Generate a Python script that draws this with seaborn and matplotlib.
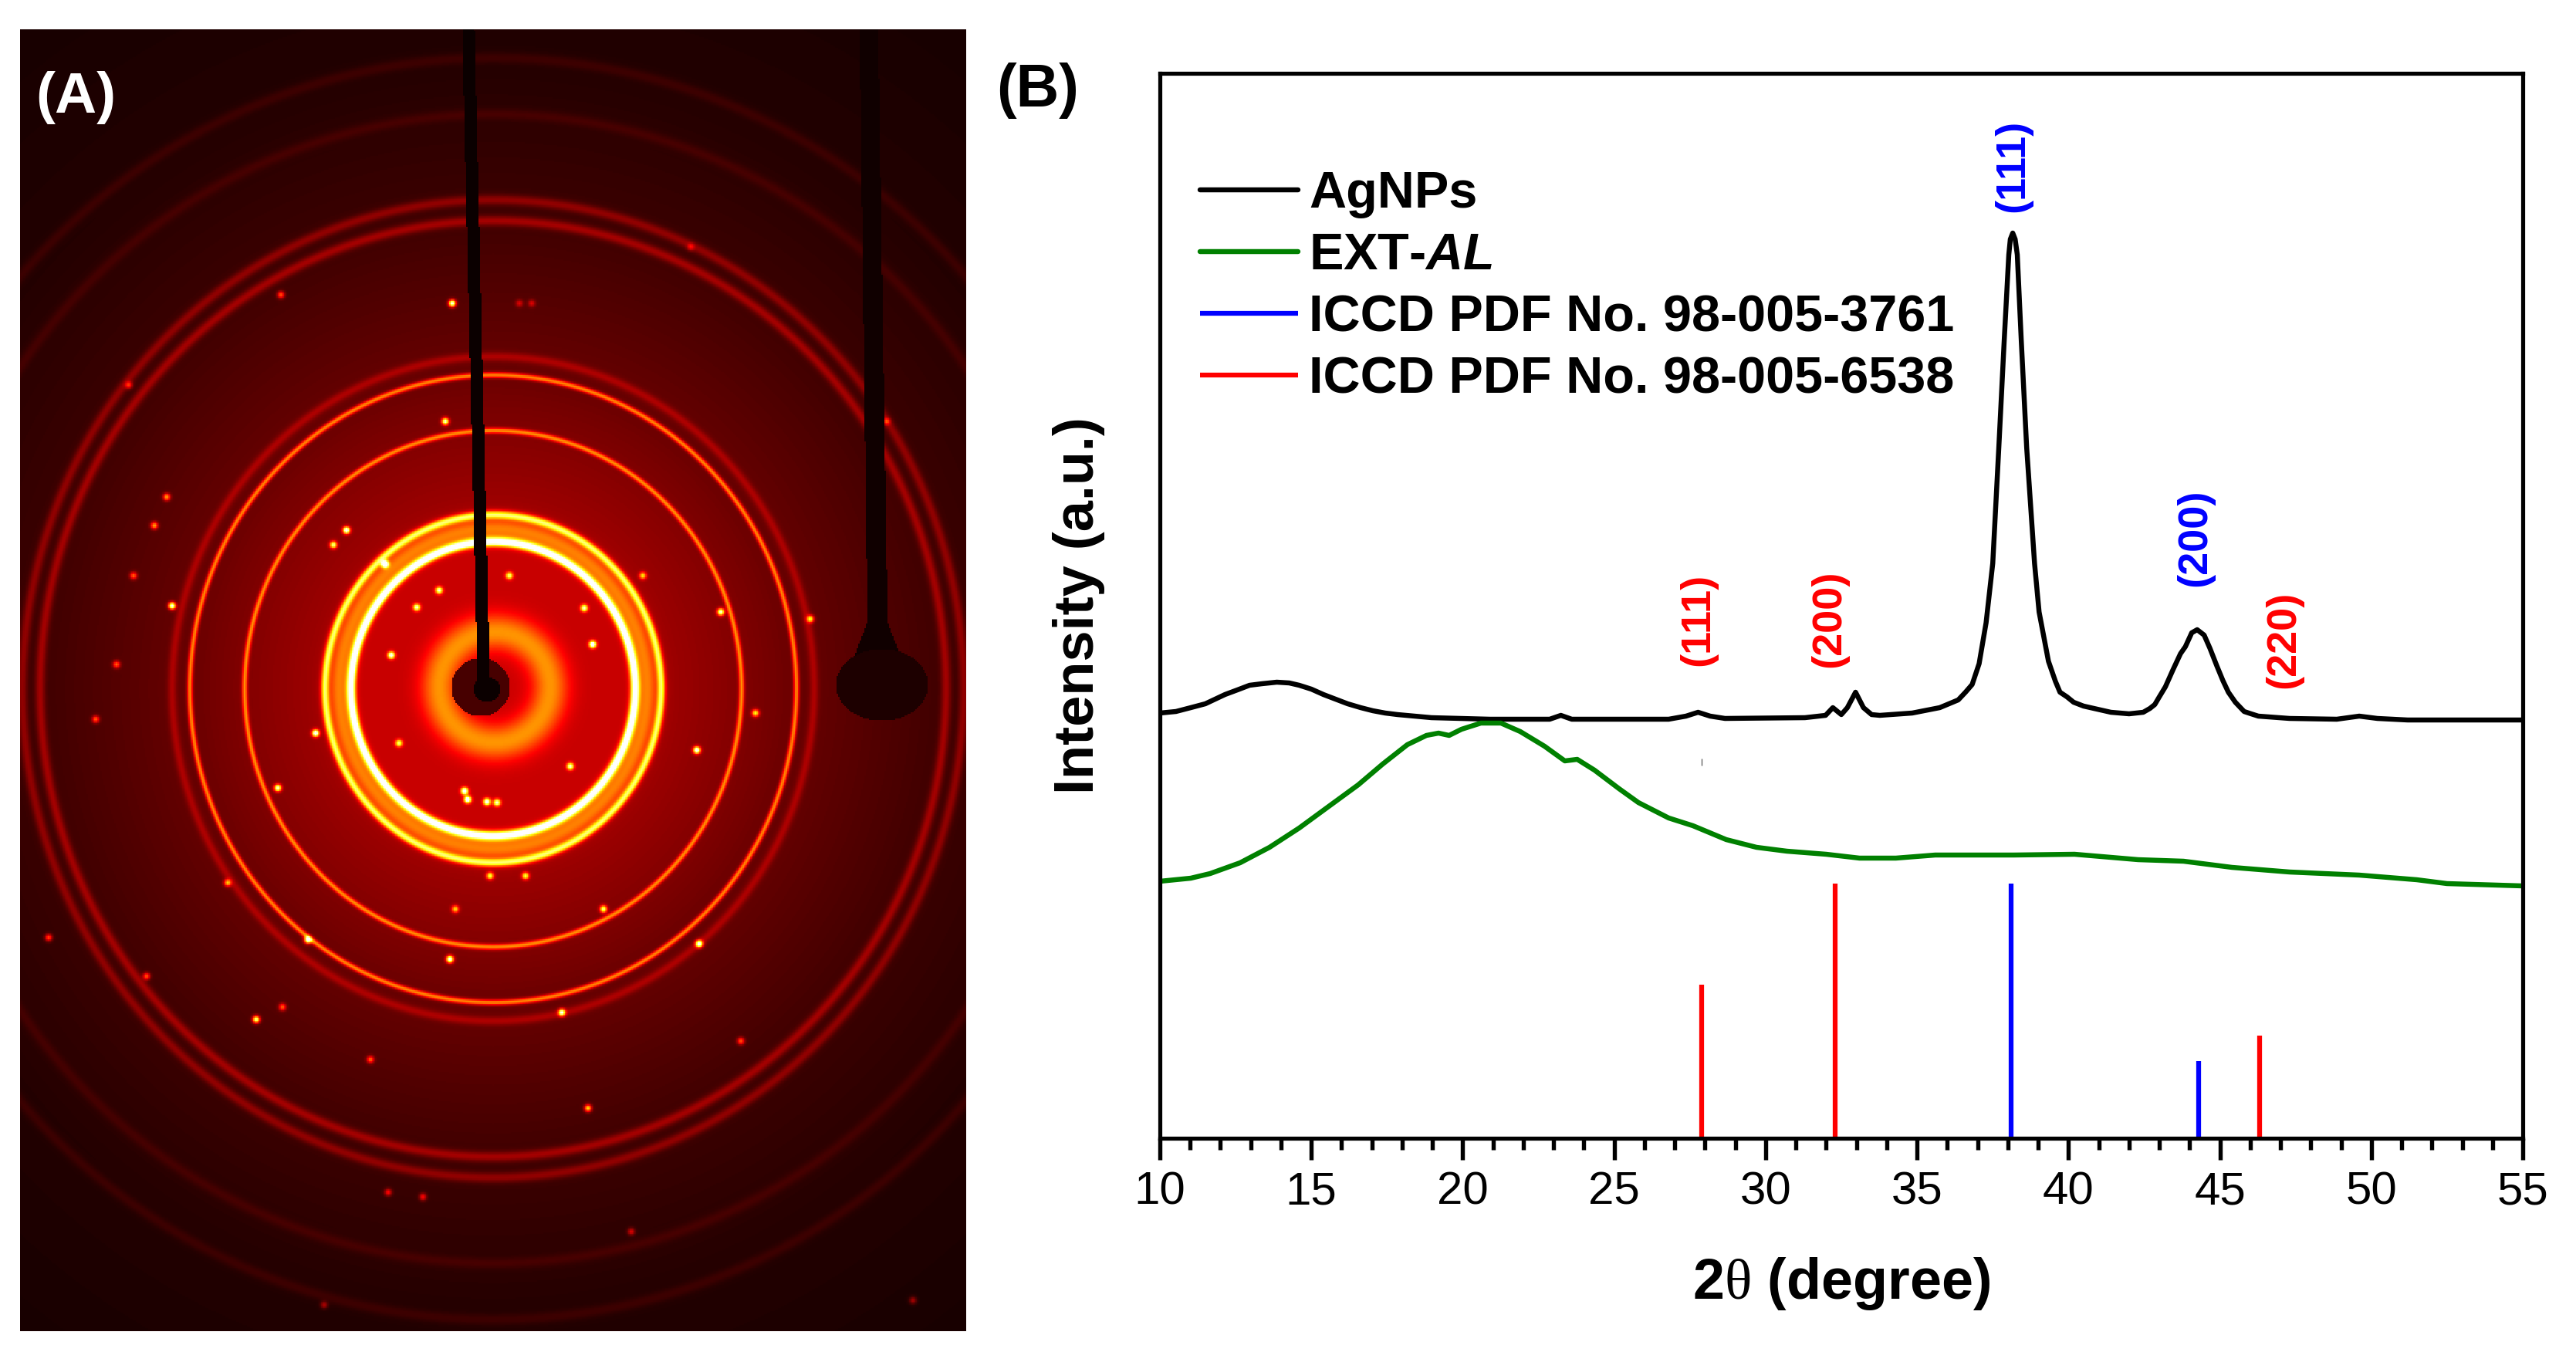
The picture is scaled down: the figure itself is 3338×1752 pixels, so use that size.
import numpy as np
import pandas as pd
import matplotlib.pyplot as plt
import seaborn as sns
from matplotlib.ticker import MultipleLocator

sns.set_style("ticks")
plt.rcParams['font.family'] = ['Liberation Sans', 'DejaVu Sans']
plt.rcParams['mathtext.fontset'] = 'custom'
plt.rcParams['mathtext.rm'] = 'Liberation Serif'
plt.rcParams['mathtext.bfit'] = 'Liberation Sans:italic:bold'
plt.rcParams['text.color'] = 'black'
plt.rcParams['axes.labelcolor'] = 'black'
plt.rcParams['xtick.color'] = 'black'
plt.rcParams['xtick.labelcolor'] = 'black'

W, H = 3338, 1752

# panel B, intensity is in arbitrary units
agnps_x = [10, 10.53, 11.02, 11.5, 12.15, 12.56, 12.96, 13.37, 13.86, 14.27, 14.6, 15.0, 15.4, 15.8,
           16.2, 16.63, 17.03, 17.44, 17.85, 18.97, 20.9, 22.87,
           23.24, 23.6, 26.8, 27.37, 27.77, 28.17, 28.66, 31.3, 31.98, 32.22, 32.5, 32.7, 32.97,
           33.23, 33.5, 33.77, 34.84, 35.75, 36.36, 36.6, 36.82, 37.05, 37.28, 37.5, 37.7, 37.88, 38.03,
           38.08, 38.16, 38.24, 38.31, 38.44, 38.62, 38.88, 39.03, 39.34, 39.57, 39.72, 39.95, 40.17,
           40.5, 41.4, 42.0, 42.47, 42.69, 42.85, 43.0, 43.2, 43.45, 43.7, 43.86, 44.07, 44.25, 44.48,
           44.67, 44.9, 45.1, 45.28, 45.51, 45.8, 46.03, 46.27, 47.3, 48.86, 49.6,
           50.2, 51.2, 55]
agnps_y = [551, 553, 558, 563, 575, 581, 587, 589, 591, 590, 587, 582, 575, 569,
           563, 558, 554, 551, 549, 545, 543, 543,
           548, 543, 543, 547, 552, 547, 544, 545, 548, 558, 549, 558, 578,
           558, 549, 548, 551, 558, 568, 578, 588, 615, 668, 745, 895, 1035, 1145,
           1165, 1173, 1165, 1145, 1035, 895, 745, 682, 618, 592, 578, 572, 565,
           560, 552, 550, 552, 557, 562, 572, 585, 607, 628, 637, 655, 659, 652,
           635, 612, 593, 578, 565, 553, 550, 547, 544, 543, 547,
           544, 542, 542]

ext_x = [10, 11.02, 11.66, 12.65, 13.62, 14.6, 15.4, 16.55, 17.36, 18.17, 18.8, 19.2, 19.55, 19.96,
         20.6, 21.26, 21.9, 22.7, 23.37, 23.78, 24.35, 25.16, 25.8, 26.8, 27.6, 28.7, 29.7, 30.7,
         32, 33.1, 34.3, 35.6, 38.2, 40.2, 42.3, 43.8, 45.4, 47.3, 49.6, 51.5, 52.5, 55]
ext_y = [333, 337, 343, 357, 377, 402, 425, 458, 485, 510, 522, 525, 522, 530,
         538, 538, 527, 508, 489, 491, 477, 453, 435, 415, 405, 387, 377, 372,
         368, 363, 363, 367, 367, 368, 361, 359, 351, 345, 341, 335, 330, 327]

blue_pos = [38.1, 44.3]
blue_height = [330, 100]
red_pos = [27.9, 32.3, 46.3]
red_height = [199, 330, 133]

hkl_text = ['(111)', '(200)', '(220)', '(111)', '(200)']
hkl_x = [27.76, 32.1, 47.1, 38.16, 44.17]
hkl_y = [612, 610, 583, 1200, 715]
hkl_color = ['#ff0000', '#ff0000', '#ff0000', '#0000ff', '#0000ff']

x_ticks = [10, 15, 20, 25, 30, 35, 40, 45, 50, 55]

# panel A, detector picture: rings, spots and background in picture pixels
ring_rx = [184, 200, 218, 322, 393, 416, 587, 610, 740, 810]
ring_ry = [191, 208, 226, 335, 407, 431, 607, 634, 745, 818]
ring_level = [0.80, 0.30, 0.55, 0.40, 0.42, 0.11, 0.15, 0.13, 0.04, 0.04]
ring_sigma = [4, 11, 3.5, 2.5, 2.5, 4, 4.5, 4.5, 5, 5]

spot_x = [585, 576, 363, 215, 199, 172, 222, 150, 123, 448, 431, 498, 539, 568, 506, 767, 756, 659,
          832, 933, 1049, 978, 902, 738, 601, 605, 630, 643, 408, 359, 516, 634, 680, 589, 781, 582,
          905, 398, 294, 62, 189, 331, 365, 727, 479, 959, 761, 502, 547, 817, 419, 1182, 894, 1148,
          672, 688, 166]
spot_y = [392, 545, 381, 643, 680, 745, 784, 860, 932, 686, 705, 730, 786, 764, 848, 834, 787, 745,
          745, 792, 801, 924, 972, 993, 1025, 1036, 1039, 1040, 950, 1021, 963, 1135, 1135, 1178, 1178, 1243,
          1223, 1218, 1144, 1215, 1265, 1321, 1305, 1312, 1373, 1349, 1436, 1545, 1551, 1596, 1691, 1685, 319, 545,
          392, 392, 498]
spot_level = [0.9, 0.8, 0.4, 0.5, 0.5, 0.4, 0.9, 0.4, 0.4, 0.9, 0.7, 0.9, 0.7, 0.7, 0.8, 0.9, 0.7, 0.6,
              0.5, 0.8, 0.6, 0.6, 0.9, 0.7, 0.9, 0.9, 0.8, 0.7, 0.9, 0.8, 0.6, 0.6, 0.6, 0.5, 0.7, 0.9,
              0.9, 0.8, 0.5, 0.4, 0.4, 0.8, 0.4, 0.8, 0.4, 0.4, 0.6, 0.3, 0.3, 0.25, 0.2, 0.2, 0.2, 0.3,
              0.2, 0.2, 0.3]

bg_radius = [0, 180, 230, 320, 400, 600, 800, 1100]
bg_level = [0.29, 0.28, 0.22, 0.18, 0.14, 0.075, 0.035, 0.015]


def detector_field():
    px, py = np.meshgrid(np.arange(26, 1252, 2), np.arange(38, 1725, 2))
    cx, cy = 638, 892
    r = np.hypot(px - cx, (py - cy) / 1.04)
    z = np.interp(r, bg_radius, bg_level)

    # the diffuse halo round the beam stop
    z += 0.30 * np.exp(-((np.hypot(px - 640, py - 890) - 72) / 17) ** 2 / 2)

    for rx, ry, level, sigma in zip(ring_rx, ring_ry, ring_level, ring_sigma):
        d = (np.sqrt(((px - cx) / rx) ** 2 + ((py - cy) / ry) ** 2) - 1) * (rx + ry) / 2
        z += level * np.exp(-(d / sigma) ** 2 / 2)

    for sx, sy, level in zip(spot_x, spot_y, spot_level):
        z += level * np.exp(-((px - sx) ** 2 + (py - sy) ** 2) / 2 / 3.2 ** 2)

    # beam stop and its arms
    z[np.hypot(px - 622, py - 890) < 38] = 0.09
    z[np.hypot(px - 630, py - 893) < 17] = 0
    arm1 = np.interp(py, [38, 890], [606, 626])
    z[(np.abs(px - arm1) < 8) & (py < 890)] = 0
    arm2 = np.interp(py, [38, 800], [1125, 1136])
    half = np.interp(py, [38, 805, 855], [12, 13, 32])
    z[(np.abs(px - arm2) < half) & (py < 860)] = 0.01
    z[((px - 1142) / 60) ** 2 + ((py - 887) / 47) ** 2 < 1] = 0.03
    return np.clip(z, 0, 1)


fig = plt.figure(figsize=(W / 300, H / 300), dpi=300)

ax_a = fig.add_axes([26 / W, 1 - 1725 / H, 1226 / W, 1687 / H])
sns.heatmap(detector_field(), cmap='hot', vmin=0, vmax=1, cbar=False,
            xticklabels=False, yticklabels=False, rasterized=True, ax=ax_a)
ax_a.set_xlabel('')
ax_a.set_ylabel('')

ax_b = fig.add_axes([1503 / W, 1 - 1475 / H, 1766 / W, 1380 / H])

agnps = pd.DataFrame({'x': agnps_x, 'y': agnps_y})
ext = pd.DataFrame({'x': ext_x, 'y': ext_y})
sns.lineplot(data=agnps, x='x', y='y', color='black', lw=1.55, sort=False, estimator=None,
             label='AgNPs', ax=ax_b, solid_joinstyle='round')
sns.lineplot(data=ext, x='x', y='y', color='#008000', lw=1.55, sort=False, estimator=None,
             label=r'EXT-$\mathbfit{AL}$', ax=ax_b, solid_joinstyle='round')

ax_b.vlines(blue_pos, 0, blue_height, color='#0000ff', lw=1.5, label='ICCD PDF No. 98-005-3761')
ax_b.vlines(red_pos, 0, red_height, color='#ff0000', lw=1.5, label='ICCD PDF No. 98-005-6538')
# small stray mark under the 27.9 peak
ax_b.vlines([27.9], 483, 492, color='#555555', lw=0.3)

for text, x, y, color in zip(hkl_text, hkl_x, hkl_y, hkl_color):
    ax_b.text(x, y, text, color=color, fontsize=13, fontweight='bold', rotation=90,
              ha='center', va='bottom')

ax_b.set_xlim(10, 55)
ax_b.set_ylim(0, 1380)
ax_b.set_xticks(x_ticks)
ax_b.xaxis.set_minor_locator(MultipleLocator(1))
ax_b.set_yticks([])
ax_b.tick_params(axis='x', which='major', length=6.8, width=1.3, labelsize=14.4, pad=3.5, color='black')
ax_b.tick_params(axis='x', which='minor', length=3.6, width=1.3, color='black')
for spine in ax_b.spines.values():
    spine.set_linewidth(1.25)
    spine.set_color('black')

ax_b.set_xlabel(r'2$\mathrm{\theta}$ (degree)', fontsize=17.7, fontweight='bold', labelpad=13)
ax_b.set_ylabel('Intensity (a.u.)', fontsize=17.3, fontweight='bold', labelpad=17)

leg = ax_b.legend(loc='upper left', bbox_to_anchor=((1555 - 1503) / 1766, (1475 - 221) / 1380),
                  frameon=False, borderpad=0, borderaxespad=0, handlelength=1.9, handletextpad=0.22,
                  labelspacing=0.27, prop={'size': 16, 'weight': 'bold'})

fig.text(46 / W, 1 - 146 / H, '(A)', color='white', fontsize=18, fontweight='bold', va='baseline')
fig.text(1291 / W, 1 - 138 / H, '(B)', color='black', fontsize=18.5, fontweight='bold', va='baseline')

plt.savefig("out.png", dpi=300)
